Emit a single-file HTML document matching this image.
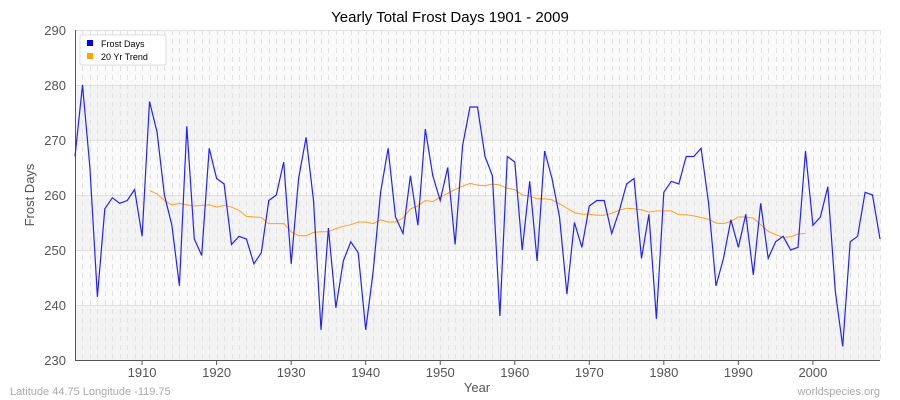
<!DOCTYPE html>
<html><head><meta charset="utf-8"><style>body{margin:0;background:#fff}svg{display:block;font-family:"Liberation Sans",sans-serif}</style></head>
<body>
<svg id="s" width="900" height="400" xmlns="http://www.w3.org/2000/svg">
<rect width="900" height="400" fill="#fff"/>
<rect x="75" y="30" width="805" height="330" fill="#fafafa"/>
<rect x="75" y="85" width="805" height="55" fill="#f3f3f3"/>
<rect x="75" y="195" width="805" height="55" fill="#f3f3f3"/>
<rect x="75" y="305" width="805" height="55" fill="#f3f3f3"/>
<g id="vg" stroke="#e2e2e2" stroke-width="1" stroke-dasharray="5,4"></g>
<g stroke="#e0e0e0" stroke-width="1">
<line x1="75" y1="30.5" x2="880" y2="30.5"/><line x1="75" y1="85.5" x2="880" y2="85.5"/><line x1="75" y1="140.5" x2="880" y2="140.5"/><line x1="75" y1="195.5" x2="880" y2="195.5"/><line x1="75" y1="250.5" x2="880" y2="250.5"/><line x1="75" y1="305.5" x2="880" y2="305.5"/>
</g>
<line x1="75.5" y1="30" x2="75.5" y2="360" stroke="#555"/>
<line x1="75" y1="360.5" x2="880" y2="360.5" stroke="#555"/>
<g font-size="13" fill="#555" text-anchor="end">
<text x="66" y="35">290</text><text x="66" y="90">280</text><text x="66" y="145">270</text><text x="66" y="200">260</text><text x="66" y="255">250</text><text x="66" y="310">240</text><text x="66" y="365">230</text>
</g>
<g id="xt" font-size="13" fill="#555" text-anchor="middle"></g>
<text x="450" y="22" font-size="15" text-anchor="middle" fill="#000">Yearly Total Frost Days 1901 - 2009</text>
<text x="477" y="392" font-size="13" text-anchor="middle" fill="#555">Year</text>
<text x="34" y="195" font-size="13" text-anchor="middle" fill="#555" transform="rotate(-90 34 195)">Frost Days</text>
<text x="10" y="395" font-size="11" fill="#aaa">Latitude 44.75 Longitude -119.75</text>
<text x="880" y="395" font-size="11" fill="#aaa" text-anchor="end">worldspecies.org</text>
<path id="tr" fill="none" stroke="#ffa31a" stroke-width="1"/>
<path id="fd" fill="none" stroke="#2222ff" stroke-width="1.2"/>
<rect x="80" y="35" width="86" height="30" fill="#fff" stroke="#ddd" rx="2"/>
<rect x="87" y="40" width="6" height="6" fill="#0000ee"/>
<rect x="87" y="53" width="6" height="6" fill="#ffa500"/>
<text x="101" y="47" font-size="9" fill="#000">Frost Days</text>
<text x="101" y="60" font-size="9" fill="#000">20 Yr Trend</text>
</svg>
<script>
var fd=[267,280,265,241.5,257.5,259.5,258.5,259,261,252.5,277,271.5,260,254.5,243.5,272.5,252,249,268.5,263,262,251,252.5,252,247.5,249.5,259,260,266,247.5,263,270.5,259,235.5,254,239.5,248,251.5,249.5,235.5,246,260.5,268.5,256,253,263.5,254.5,272,263.5,259,265,251,269,276,276,267,263.5,238,267,266,250,262.5,248,268,263,256,242,255,250.5,258,259,259,253,257,262,263,248.5,256.5,237.5,260.5,262.5,262,267,267,268.5,258.5,243.5,248.5,255.5,250.5,256.5,245.5,258.5,248.5,251.5,252.5,250,250.5,268,254.5,256,261.5,242.5,232.5,251.5,252.5,260.5,260,252];
var tr=[260.8,260.2,259,258.2,258.5,258.2,258,258.1,258.2,257.8,258.1,257.8,257.2,256.1,256,255.9,254.8,254.8,254.8,253.3,252.6,252.6,253.2,253.3,253.3,253.9,254.3,254.6,255.1,255.1,254.8,255.5,255.1,255.1,255.8,257.5,258,259,258.8,259.6,260.3,261,261.6,262.1,261.8,261.7,262,261.8,261.2,261,260,259.8,259.3,259.3,259.1,258.4,257.6,256.8,256.5,256.5,256.3,256.3,256.7,257.2,257.6,257.5,257.3,256.9,257.1,257.1,257.1,256.4,256.4,256.2,255.9,255.6,254.9,254.8,255.2,256,256,255.8,254.6,253.4,252.8,252.3,252.4,252.9,253];
function X(y){return 75+(y-1901)*805/108}function Y(v){return 30+(290-v)*5.5}
var d="";fd.forEach(function(v,i){d+=(i?"L":"M")+X(1901+i).toFixed(1)+","+Y(v).toFixed(1)});document.getElementById("fd").setAttribute("d",d);
d="";tr.forEach(function(v,i){d+=(i?"L":"M")+X(1911+i).toFixed(1)+","+Y(v).toFixed(1)});document.getElementById("tr").setAttribute("d",d);
var vg=document.getElementById("vg"),xt=document.getElementById("xt"),ns="http://www.w3.org/2000/svg";
for(var y=1902;y<=2009;y++){var l=document.createElementNS(ns,"line");var x=Math.round(X(y))+0.5;l.setAttribute("x1",x);l.setAttribute("x2",x);l.setAttribute("y1",30);l.setAttribute("y2",360);vg.appendChild(l);}
for(var y=1910;y<=2000;y+=10){var t=document.createElementNS(ns,"text");t.setAttribute("x",X(y));t.setAttribute("y",377);t.textContent=y;xt.appendChild(t);
var k=document.createElementNS(ns,"line");k.setAttribute("x1",X(y));k.setAttribute("x2",X(y));k.setAttribute("y1",360);k.setAttribute("y2",365);k.setAttribute("stroke","#555");xt.appendChild(k);}
</script>
</body></html>
